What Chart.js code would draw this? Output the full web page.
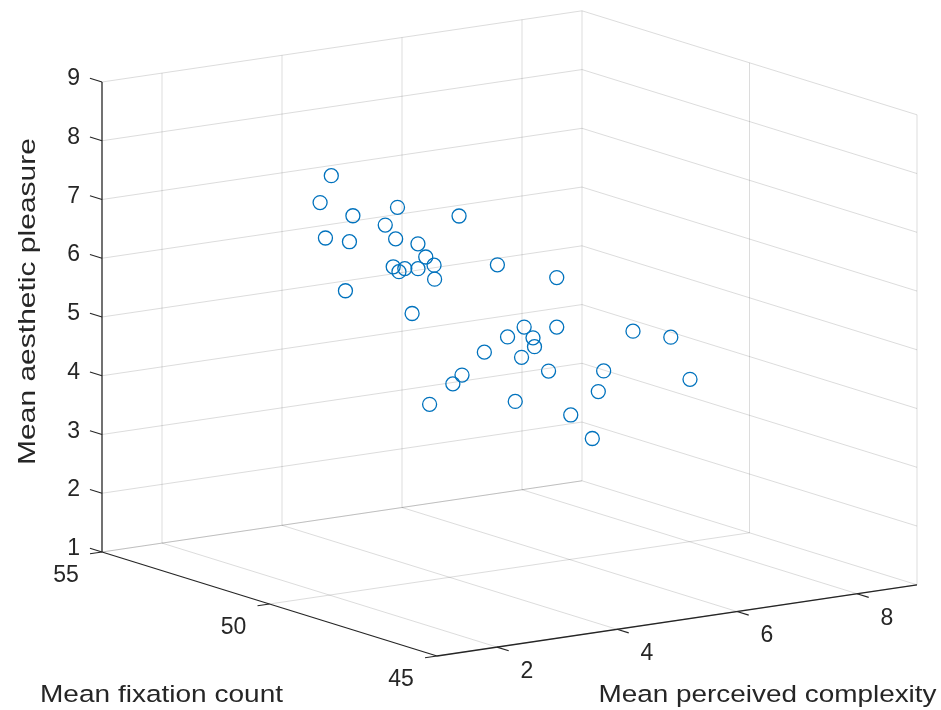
<!DOCTYPE html>
<html>
<head>
<meta charset="utf-8">
<script src="https://cdn.jsdelivr.net/npm/chart.js@4/dist/chart.umd.min.js"></script>
<style>
  html, body { margin: 0; padding: 0; background: #ffffff; }
  #wrap { width: 941px; height: 710px; }
</style>
</head>
<body>
<div id="wrap"><canvas id="c" width="941" height="710"></canvas></div>
<script>
// ---- data (x: perceived complexity, y: fixation count, z: aesthetic pleasure) ----
const complexity = [2.70,1.62,3.73,3.58,3.21,3.99,2.10,1.83,4.61,3.53,2.99,4.58,2.95,4.33,3.59,3.14,4.31,1.54,3.60,4.24,5.62,5.97,4.95,5.47,6.62,4.97,5.53,4.14,5.93,5.66,4.00,2.44,5.71,5.63,5.04,6.96,5.81,7.84,7.13,8.12];
const fixations  = [51.2,49.6,52.4,50.8,48.3,51.9,50.3,49.1,52.7,50.1,48.9,51.5,49.8,52.1,50.6,49.4,51.0,48.7,50.4,49.0,49.7,51.3,48.5,50.9,52.2,49.2,51.7,48.1,50.5,52.6,49.9,47.8,51.1,49.3,47.6,50.7,48.8,51.4,49.0,50.2];
const pleasure   = [7.82,7.81,6.77,7.22,7.57,6.66,7.01,7.20,6.19,6.73,6.80,5.96,6.48,5.78,6.21,6.49,5.85,6.48,5.48,6.46,5.91,4.73,5.38,4.71,4.29,4.92,4.30,5.06,4.13,3.73,4.31,4.57,3.54,3.64,3.63,3.94,4.10,4.36,4.79,3.71];

const complexityTicks = [2,4,6,8];
const fixationTicks   = [45,50,55];
const pleasureTicks   = [1,2,3,4,5,6,7,8,9];
const complexityLim = [1,9];
const fixationLim   = [45,55];
const pleasureLim   = [1,9];

const xLabel = 'Mean perceived complexity';
const yLabel = 'Mean fixation count';
const zLabel = 'Mean aesthetic pleasure';

// ---- orthographic view (az -37.5, el 30 look) ----
const EX = [60, 8.9], EY = [-33.5, 10.4], EZ = [0, 58.75];
function projX(c, f, p) { return EX[0]*(c-complexityLim[0]) + EY[0]*(f-fixationLim[0]) + EZ[0]*(p-pleasureLim[0]); }
function projY(c, f, p) { return EX[1]*(c-complexityLim[0]) + EY[1]*(f-fixationLim[0]) + EZ[1]*(p-pleasureLim[0]); }

const points = complexity.map((c, i) => ({ x: projX(c, fixations[i], pleasure[i]), y: projY(c, fixations[i], pleasure[i]) }));

const GRID = 'rgba(38,38,38,0.16)';
const AXIS = '#262626';
const TXT  = '#262626';

const axes3d = {
  id: 'axes3d',
  beforeDatasetsDraw(chart) {
    const ctx = chart.ctx, sx = chart.scales.x, sy = chart.scales.y;
    const P = (c, f, p) => [sx.getPixelForValue(projX(c, f, p)), sy.getPixelForValue(projY(c, f, p))];
    const line = (a, b, col, w) => {
      ctx.beginPath(); ctx.moveTo(a[0], a[1]); ctx.lineTo(b[0], b[1]);
      ctx.strokeStyle = col; ctx.lineWidth = w; ctx.stroke();
    };
    const [c0, c1] = complexityLim, [f0, f1] = fixationLim, [p0, p1] = pleasureLim;
    ctx.save();
    // back wall f = f1
    complexityTicks.forEach(c => line(P(c, f1, p0), P(c, f1, p1), GRID, 1));
    pleasureTicks.forEach(p => line(P(c0, f1, p), P(c1, f1, p), GRID, 1));
    // side wall c = c1
    fixationTicks.forEach(f => line(P(c1, f, p0), P(c1, f, p1), GRID, 1));
    pleasureTicks.forEach(p => line(P(c1, f0, p), P(c1, f1, p), GRID, 1));
    // floor p = p0
    complexityTicks.forEach(c => line(P(c, f0, p0), P(c, f1, p0), GRID, 1));
    fixationTicks.forEach(f => line(P(c0, f, p0), P(c1, f, p0), GRID, 1));

    // axis lines
    line(P(c0, f1, p0), P(c0, f1, p1), AXIS, 1.3);
    line(P(c0, f1, p0), P(c0, f0, p0), AXIS, 1.3);
    line(P(c0, f0, p0), P(c1, f0, p0), AXIS, 1.3);

    // ticks
    pleasureTicks.forEach(p => line(P(c0, f1, p), P(c0, f1 + 0.36, p), AXIS, 1.2));
    fixationTicks.forEach(f => line(P(c0, f, p0), P(c0 - 0.2, f, p0), AXIS, 1.2));
    complexityTicks.forEach(c => line(P(c, f0, p0), P(c, f0 - 0.35, p0), AXIS, 1.2));

    // tick labels
    ctx.fillStyle = TXT;
    ctx.font = '23px "Liberation Sans", Arial, sans-serif';
    ctx.textAlign = 'right'; ctx.textBaseline = 'middle';
    pleasureTicks.forEach(p => {
      const q = P(c0, f1 + 0.36, p);
      ctx.fillText(String(p), q[0] - 10, q[1] + 0.5);
    });
    ctx.textAlign = 'center';
    fixationTicks.forEach(f => {
      const q = P(c0, f, p0);
      ctx.fillText(String(f), q[0] - 36, q[1] + 24);
    });
    complexityTicks.forEach(c => {
      const q = P(c, f0, p0);
      ctx.fillText(String(c), q[0] + 30, q[1] + 24.5);
    });

    // axis titles
    ctx.font = '24.5px "Liberation Sans", Arial, sans-serif';
    ctx.textBaseline = 'alphabetic';
    const fit = (text, x, y, width, rot) => {
      ctx.save();
      ctx.translate(x, y);
      if (rot) ctx.rotate(-Math.PI / 2);
      const w = ctx.measureText(text).width;
      ctx.scale(width / w, 1);
      ctx.textAlign = 'center';
      ctx.fillText(text, 0, 0);
      ctx.restore();
    };
    fit(xLabel, 767.5, 701.5, 338, false);
    fit(yLabel, 161.5, 702, 243, false);
    fit(zLabel, 35, 301.5, 327, true);
    ctx.restore();
  }
};

new Chart(document.getElementById('c'), {
  type: 'scatter',
  data: {
    datasets: [{
      data: points,
      pointStyle: 'circle',
      pointRadius: 7,
      pointHoverRadius: 7,
      borderWidth: 1.3,
      borderColor: '#0072BD',
      backgroundColor: 'rgba(0,0,0,0)',
      clip: false
    }]
  },
  options: {
    responsive: false,
    devicePixelRatio: 1,
    animation: false,
    layout: { padding: 0, autoPadding: false },
    plugins: { legend: { display: false }, tooltip: { enabled: false }, title: { display: false } },
    scales: {
      x: { type: 'linear', display: false, min: -437, max: 504 },
      y: { type: 'linear', display: false, min: -54, max: 656 }
    }
  },
  plugins: [axes3d]
});
</script>
</body>
</html>
